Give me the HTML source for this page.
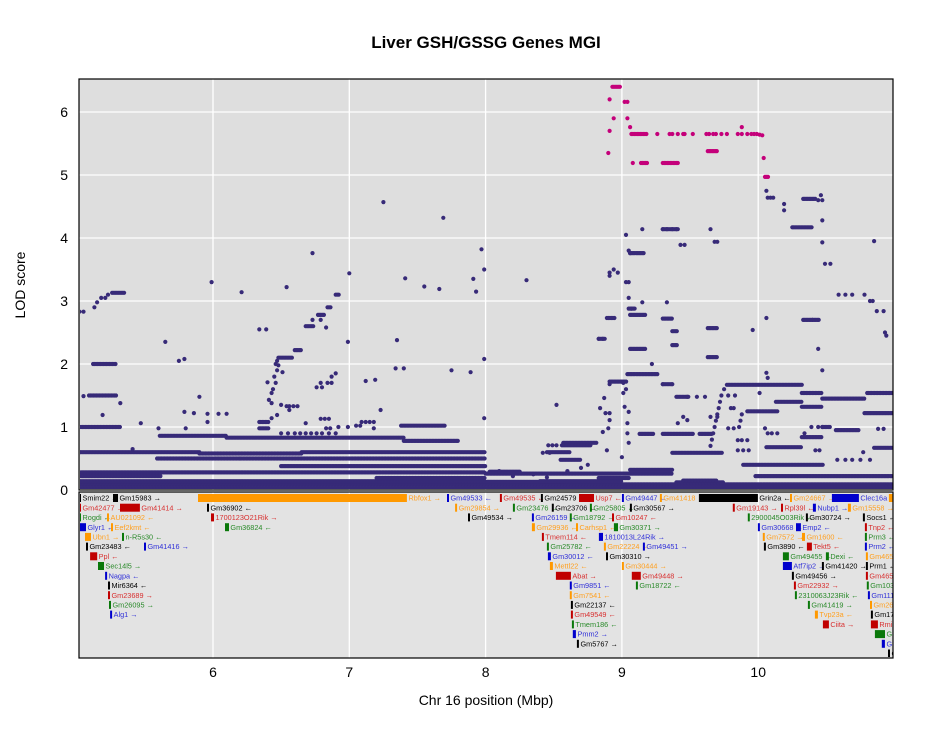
<!DOCTYPE html>
<html><head><meta charset="utf-8"><style>
html,body{margin:0;padding:0;background:#fff;}
svg{display:block;font-family:"Liberation Sans",Arial,sans-serif;}
</style></head><body>
<svg id="chart" width="934" height="756" viewBox="0 0 934 756">
<defs>
<clipPath id="plotClip"><rect x="80" y="80" width="813" height="409"/></clipPath>
<clipPath id="geneClip"><rect x="80" y="493" width="813" height="164"/></clipPath>
</defs>
<text x="486" y="48" text-anchor="middle" font-size="17" font-weight="bold">Liver GSH/GSSG Genes MGI</text>
<rect x="79" y="79" width="814" height="411" fill="#dedede"/>
<rect x="79" y="492" width="814" height="166" fill="#e3e3e3"/>
<g id="grid"></g>
<g id="dots" clip-path="url(#plotClip)"></g>
<g id="genes" clip-path="url(#geneClip)"></g>
<rect x="79" y="79" width="814" height="411" fill="none" stroke="#000" stroke-width="1.2"/>
<rect x="79" y="492" width="814" height="166" fill="none" stroke="#000" stroke-width="1.2"/>
<g id="yticks"></g>
<g id="xticks"></g>
<text x="486" y="705" text-anchor="middle" font-size="14">Chr 16 position (Mbp)</text>
<text x="25" y="285" text-anchor="middle" font-size="14" transform="rotate(-90 25 285)">LOD score</text>
</svg>
<script>
// ---- data ----
var xTicks = [6, 7, 8, 9, 10];
var yTicks = [0, 1, 2, 3, 4, 5, 6];
// horizontal runs of markers (Mbp start, Mbp end, LOD)
var runStart = [5.02,5.12,5.09,5.26,5.02,5.90,6.65,5.61,6.10,7.40,5.59,6.20,5.02,5.02,6.50,5.02,5.02,5.02,7.20,7.38,6.48,6.60,6.68,6.77,6.84,6.90,6.34,6.34,8.57,8.55,8.03,9.06,9.37,9.77,10.32,10.47,10.80,10.78,9.92,10.13,10.32,10.47,10.57,10.32,10.06,10.85,9.89,9.98,8.00,8.83,9.13,9.30,9.57,9.30,9.63,9.37,9.06,9.06,8.89,8.83,9.37,9.63,9.06,9.06,9.30,10.33,10.26,10.40,10.33,9.04,8.91,9.30,9.41,8.56,8.00,8.40,9.40,8.45,9.45];
var runEnd   = [5.32,5.29,5.29,5.35,5.90,6.65,8.00,6.10,7.40,7.80,6.20,8.00,5.62,8.00,8.00,10.99,10.99,8.00,8.00,7.70,6.58,6.65,6.74,6.82,6.87,6.93,6.41,6.41,8.82,8.70,8.25,9.37,9.74,10.32,10.47,10.78,10.99,10.99,10.14,10.32,10.47,10.53,10.74,10.47,10.32,10.99,10.48,10.99,9.37,9.06,9.23,9.52,9.66,9.37,9.70,9.41,9.17,9.17,8.95,8.88,9.41,9.70,9.10,9.16,9.41,10.42,10.40,10.45,10.40,9.26,9.04,9.37,9.49,8.77,8.60,9.00,9.75,8.62,9.70];
var runLod   = [1.00,2.00,1.50,3.13,0.60,0.58,0.60,0.86,0.83,0.78,0.50,0.50,0.22,0.28,0.38,0.03,0.09,0.14,0.19,1.02,2.10,2.22,2.60,2.78,2.90,3.10,1.08,0.98,0.75,0.48,0.29,0.32,0.59,1.67,1.54,1.45,1.54,1.22,1.25,1.40,1.32,1.00,0.95,0.84,0.68,0.67,0.40,0.22,0.26,0.19,0.89,0.89,0.89,2.72,2.57,2.52,2.78,2.24,2.73,2.40,2.30,2.11,2.88,3.76,4.14,4.62,4.17,2.70,2.70,1.84,1.72,1.68,1.48,0.71,0.13,0.14,0.12,0.60,0.15];
// single markers (Mbp, LOD)
var ptPos = [5.02,5.05,5.13,5.15,5.18,5.21,5.23,7.25,7.69,6.73,7.97,7.99,7.00,7.41,5.99,6.21,6.54,7.55,7.66,7.91,7.93,5.65,5.75,5.79,6.34,6.39,6.73,6.79,6.79,6.76,6.80,6.84,6.87,6.90,6.87,6.83,6.99,7.35,7.34,7.40,7.75,7.89,7.99,7.12,7.19,7.23,7.99,5.05,5.19,5.32,5.47,5.60,5.90,5.79,5.86,5.96,6.04,6.10,5.96,5.80,5.41,6.41,6.43,6.46,6.47,6.48,6.40,6.51,6.43,6.43,6.47,6.50,6.54,6.56,6.59,6.56,6.62,6.68,6.79,6.82,6.85,6.83,6.86,6.92,6.99,7.05,7.08,7.09,7.12,7.15,7.18,7.18,6.44,6.45,6.46,6.47,6.50,6.55,6.60,6.64,6.68,6.72,6.76,6.80,6.85,6.90,
8.30,8.91,8.94,8.97,8.91,9.03,9.05,9.05,9.15,9.33,9.05,9.07,10.06,9.96,10.44,10.47,9.22,8.83,8.86,9.03,9.15,9.65,9.68,9.70,9.43,9.46,9.06,9.05,9.30,9.33,9.37,9.40,10.06,10.07,10.09,10.11,10.19,10.19,10.46,10.47,10.44,10.25,10.47,10.47,10.49,10.53,10.59,10.64,10.69,10.78,10.82,10.84,10.87,10.92,10.93,10.94,10.85,
8.52,9.30,9.37,9.40,9.48,9.55,9.61,9.45,9.65,9.70,9.48,9.41,8.84,8.88,8.91,8.87,8.91,9.01,9.03,9.01,9.02,9.05,8.91,9.04,8.86,8.90,9.04,9.05,8.89,9.00,9.78,9.83,9.80,9.82,9.78,9.82,9.85,9.88,9.92,9.85,9.89,9.93,10.05,10.07,10.10,10.14,10.34,10.39,10.44,10.47,10.42,10.45,10.58,10.64,10.69,10.75,10.88,10.92,10.77,10.82,10.06,10.07,10.01,8.46,8.49,8.52,8.42,8.47,9.65,9.66,9.67,9.68,9.69,9.70,9.71,9.72,9.73,9.75,9.86,9.87,9.88,8.10,8.20,8.35,8.45,8.60,8.70,8.75];
var ptLod = [2.83,2.83,2.90,2.98,3.05,3.05,3.10,4.57,4.32,3.76,3.82,3.50,3.44,3.36,3.30,3.14,3.22,3.23,3.19,3.35,3.15,2.35,2.05,2.08,2.55,2.55,2.70,2.70,1.70,1.63,1.63,1.70,1.70,1.85,1.80,2.58,2.35,2.38,1.93,1.93,1.90,1.87,2.08,1.73,1.75,1.27,1.14,1.49,1.19,1.38,1.06,0.98,1.48,1.24,1.22,1.21,1.21,1.21,1.08,0.98,0.65,1.43,1.54,1.70,1.90,1.98,1.71,1.87,1.38,1.14,1.19,1.35,1.33,1.33,1.33,1.27,1.33,1.06,1.13,1.13,1.13,0.98,0.98,1.00,1.00,1.02,1.02,1.08,1.08,1.08,1.08,0.98,1.60,1.80,2.00,2.05,0.90,0.90,0.90,0.90,0.90,0.90,0.90,0.90,0.90,0.90,
3.33,3.45,3.50,3.45,3.40,3.30,3.30,3.05,2.98,2.98,2.88,2.88,2.73,2.54,2.24,1.90,2.00,2.40,2.40,4.05,4.14,4.14,3.94,3.94,3.89,3.89,3.76,3.80,4.14,4.14,4.14,4.14,4.75,4.64,4.64,4.64,4.54,4.44,4.68,4.60,4.60,4.17,4.28,3.93,3.59,3.59,3.10,3.10,3.10,3.10,3.00,3.00,2.84,2.84,2.50,2.45,3.95,
1.35,1.68,1.68,1.48,1.48,1.48,1.48,1.16,1.16,1.16,1.11,1.06,1.30,1.22,1.22,1.46,1.68,1.70,1.60,1.54,1.32,1.24,1.11,1.06,0.92,0.98,0.90,0.75,0.63,0.52,1.50,1.50,1.30,1.30,0.98,0.98,0.79,0.79,0.79,0.63,0.63,0.63,0.98,0.90,0.90,0.90,0.90,1.00,1.00,1.00,0.63,0.63,0.48,0.48,0.48,0.48,0.97,0.97,0.60,0.48,1.86,1.78,1.54,0.71,0.71,0.71,0.59,0.59,0.70,0.80,0.90,1.00,1.10,1.20,1.30,1.40,1.50,1.60,1.00,1.10,1.20,0.30,0.22,0.25,0.20,0.30,0.35,0.40];
// highlighted (peak) markers
var peakRunStart = [8.93,9.07,9.63,9.14,9.30,10.05];
var peakRunEnd   = [8.99,9.18,9.70,9.19,9.41,10.08];
var peakRunLod   = [6.40,5.65,5.38,5.19,5.19,4.97];
var peakPos = [8.91,9.02,9.04,8.94,9.04,9.06,8.91,8.90,9.26,9.35,9.37,9.41,9.45,9.46,9.52,9.62,9.64,9.67,9.69,9.73,9.77,9.85,9.88,9.92,9.95,9.97,9.99,10.01,10.03,9.88,9.08,10.04];
var peakLod = [6.20,6.16,6.16,5.90,5.90,5.76,5.70,5.35,5.65,5.65,5.65,5.65,5.65,5.65,5.65,5.65,5.65,5.65,5.65,5.65,5.65,5.65,5.65,5.65,5.65,5.65,5.65,5.64,5.63,5.76,5.19,5.27];
// genes: name, start Mbp, end Mbp, row, colour, strand
var geneNames = ["Smim22","Gm15983","Rbfox1","Gm49533","Gm42477","Gm41414","Gm36902","Gm29854","Rogdi","AU021092","1700123O21Rik","Gm49534","Glyr1","Eef2kmt","Gm36824","Ubn1","n-R5s30","Gm23483","Gm41416","Ppl","Sec14l5","Nagpa","Mir6364","Gm23689","Gm26095","Alg1",
"Gm49535","Gm24579","Usp7","Gm49447","Gm41418","Grin2a","Gm24667","Clec16a","Gm16558","Gm23476","Gm23706","Gm25805","Gm30567","Gm19143","Rpl39l","Nubp1","Gm15558","Gm26159","Gm18792","Gm10247","2900045O03Rik","Gm30724","Socs1","Gm29936","Carhsp1","Gm30371","Gm30668","Emp2","Tnp2","Tmem114","1810013L24Rik","Gm7572","Gm1600","Prm3","Gm25782","Gm22224","Gm49451","Gm3890","Tekt5","Prm2","Gm30012","Gm30310","Gm49455","Dexi","Gm46564","Mettl22","Gm30444","Atf7ip2","Gm41420","Prm1","Abat","Gm49448","Gm49456","Gm46565","Gm9851","Gm18722","Gm22932","Gm10343","Gm7541","2310063J23Rik","Gm11175","Gm22137","Gm41419","Gm26830","Gm49549","Tvp23a","Gm17983","Tmem186","Ciita","Rmi2","Pmm2","Gm4530","Gm5767","Gm4531","Gm4532"];
var geneStart = [5.017,5.266,5.89,7.717,5.017,5.318,5.956,7.776,5.017,5.222,5.985,7.871,5.024,5.252,6.088,5.061,5.332,5.068,5.494,5.098,5.156,5.208,5.23,5.23,5.237,5.245,
8.105,8.406,8.685,9.0,9.279,9.565,10.233,10.541,10.959,8.2,8.486,8.765,9.059,9.814,10.167,10.401,10.658,8.34,8.618,8.927,9.924,10.35,10.768,8.34,8.663,8.941,9.998,10.277,10.783,8.413,8.831,10.034,10.321,10.783,8.45,8.868,9.154,10.042,10.357,10.783,8.457,8.883,10.181,10.497,10.79,8.472,9.0,10.181,10.467,10.79,8.516,9.073,10.247,10.79,8.618,9.103,10.262,10.797,8.618,10.269,10.805,8.626,10.365,10.82,8.626,10.416,10.827,8.633,10.475,10.827,8.64,10.856,8.67,10.907,10.952];
var geneEnd = [5.02,5.303,7.423,7.72,5.02,5.464,5.96,7.78,5.02,5.226,6.007,7.875,5.068,5.256,6.117,5.105,5.336,5.072,5.498,5.15,5.20,5.212,5.234,5.234,5.241,5.259,
8.109,8.41,8.795,9.004,9.283,9.998,10.237,10.739,10.99,8.204,8.49,8.769,9.063,9.818,10.171,10.423,10.68,8.344,8.622,8.931,9.928,10.354,10.772,8.362,8.667,8.971,10.002,10.313,10.787,8.428,8.861,10.038,10.343,10.787,8.454,8.872,9.158,10.046,10.394,10.787,8.479,8.897,10.225,10.519,10.794,8.494,9.004,10.247,10.471,10.794,8.626,9.139,10.251,10.805,8.622,9.107,10.266,10.801,8.622,10.273,10.809,8.63,10.369,10.824,8.63,10.438,10.831,8.637,10.519,10.878,8.663,10.93,8.685,10.93,10.956];
var geneRow = [0,0,0,0,1,1,1,1,2,2,2,2,3,3,3,4,4,5,5,6,7,8,9,10,11,12,
0,0,0,0,0,0,0,0,0,1,1,1,1,1,1,1,1,2,2,2,2,2,2,3,3,3,3,3,3,4,4,4,4,4,5,5,5,5,5,5,6,6,6,6,6,7,7,7,7,7,8,8,8,8,9,9,9,9,10,10,10,11,11,11,12,12,12,13,13,13,14,14,15,15,16];
var geneColor = ["k","k","o","b","r","r","k","o","g","o","r","k","b","o","g","o","g","k","b","r","g","b","k","r","g","b",
"r","k","r","b","o","k","o","b","o","g","k","g","k","r","r","b","o","b","g","r","g","k","k","o","o","g","b","b","r","r","b","o","o","g","g","o","b","k","r","b","b","k","g","g","o","o","o","b","k","k","r","r","k","r","b","g","r","g","o","g","b","k","g","o","r","o","k","g","r","r","b","g","k","b","k"];
var geneDir = ["→","→","→","←","→","→","←","→","←","←","→","→","←","←","←","→","←","←","→","←","→","←","←","→","→","→",
"←","→","←","←","→","←","→","→","→","→","←","←","→","→","←","→","→","→","→","←","←","→","←","←","←","→","←","←","←","←","→","→","←","←","←","←","→","←","←","←","←","→","←","←","←","←","→","→","→","←","→","→","→","←","←","←","→","←","←","←","←","←","→","←","←","←","←","←","→","→","→","→","→","→","→"];

// ---- scales ----
var NS = "http://www.w3.org/2000/svg";
function xScale(m){ return 213 + (m - 6) * 136.3; }
function yScale(l){ return 490 - l * 63; }
function rowY(r){ return 498 + r * 9.72; }

var grid = document.getElementById('grid');
xTicks.forEach(function(t){
  var ln = document.createElementNS(NS,'line');
  ln.setAttribute('x1', xScale(t)); ln.setAttribute('x2', xScale(t));
  ln.setAttribute('y1', 79); ln.setAttribute('y2', 658);
  ln.setAttribute('stroke', '#fff'); ln.setAttribute('stroke-width', '1.3');
  
  
  grid.appendChild(ln);
  var tx = document.createElementNS(NS,'text');
  tx.setAttribute('x', xScale(t)); tx.setAttribute('y', 677);
  tx.setAttribute('text-anchor', 'middle'); tx.setAttribute('font-size', '14');
  tx.textContent = t;
  
  
  document.getElementById('xticks').appendChild(tx);
});
yTicks.forEach(function(t){
  if (t > 0) {
    var ln = document.createElementNS(NS,'line');
    ln.setAttribute('x1', 79); ln.setAttribute('x2', 893);
    ln.setAttribute('y1', yScale(t)); ln.setAttribute('y2', yScale(t));
    ln.setAttribute('stroke', '#fff'); ln.setAttribute('stroke-width', '1.3');
    
    
    grid.appendChild(ln);
  }
  var tx = document.createElementNS(NS,'text');
  tx.setAttribute('x', 68); tx.setAttribute('y', yScale(t) + 5);
  tx.setAttribute('text-anchor', 'end'); tx.setAttribute('font-size', '14');
  tx.textContent = t;
  
  
  document.getElementById('yticks').appendChild(tx);
});

var dots = document.getElementById('dots');
function dot(m, l, col){
  var c = document.createElementNS(NS,'circle');
  c.setAttribute('cx', xScale(m).toFixed(1));
  c.setAttribute('cy', yScale(l).toFixed(1));
  c.setAttribute('r', '2.1');
  c.setAttribute('fill', col);
  
  
  dots.appendChild(c);
}
var BLUE = '#372a78', PINK = '#c4007a';
for (var i = 0; i < runStart.length; i++) {
  for (var m = runStart[i]; m <= runEnd[i] + 1e-9; m += 0.011) dot(m, runLod[i], BLUE);
}
for (var i = 0; i < ptPos.length; i++) dot(ptPos[i], ptLod[i], BLUE);
for (var i = 0; i < peakRunStart.length; i++) {
  for (var m = peakRunStart[i]; m <= peakRunEnd[i] + 1e-9; m += 0.011) dot(m, peakRunLod[i], PINK);
}
for (var i = 0; i < peakPos.length; i++) dot(peakPos[i], peakLod[i], PINK);

var boxCol = {k:'#000000', r:'#c00000', g:'#0a780a', b:'#0000cc', o:'#ff9900'};
var txtCol = {k:'#000000', r:'#d83030', g:'#2a8a2a', b:'#3030d8', o:'#ffa020'};
var gg = document.getElementById('genes');
for (var i = 0; i < geneNames.length; i++) {
  var x0 = xScale(geneStart[i]), x1 = xScale(geneEnd[i]);
  var w = Math.max(2, x1 - x0);
  var y = rowY(geneRow[i]);
  var r = document.createElementNS(NS,'rect');
  r.setAttribute('x', x0.toFixed(1)); r.setAttribute('y', (y - 4).toFixed(1));
  r.setAttribute('width', w.toFixed(1)); r.setAttribute('height', 8);
  r.setAttribute('fill', boxCol[geneColor[i]]);
  
  
  gg.appendChild(r);
  var t = document.createElementNS(NS,'text');
  t.setAttribute('x', (x0 + w + 1.5).toFixed(1)); t.setAttribute('y', (y + 2.6).toFixed(1));
  t.setAttribute('font-size', '7.3');
  t.setAttribute('fill', txtCol[geneColor[i]]);
  t.textContent = geneNames[i] + ' ' + geneDir[i];
  
  
  gg.appendChild(t);
}
</script>
</body></html>
